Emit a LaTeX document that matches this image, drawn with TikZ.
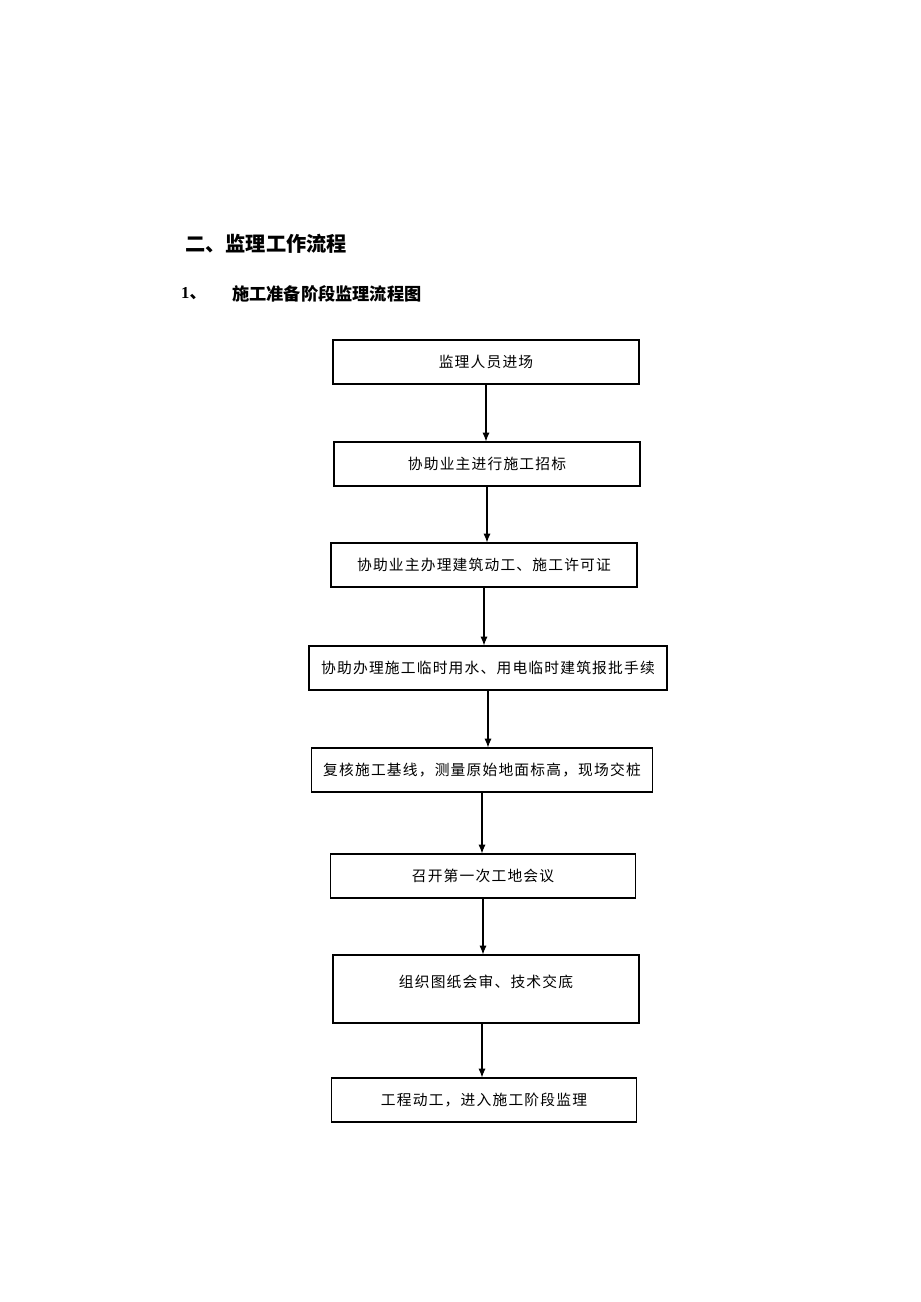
\documentclass[tikz,border=0pt]{standalone}
\usepackage{fontspec}
\setmainfont{Liberation Serif}
\newfontfamily\cjk[LetterSpace=8]{Noto Sans CJK SC}
\newfontfamily\cjkb{Noto Sans CJK SC}
\usetikzlibrary{positioning, arrows.meta}
\tikzset{
  stepbox/.style={draw, line width=0.6pt, minimum height=44*0.02cm, inner sep=0pt,
    font=\cjk\fontsize{8.4}{10}\selectfont},
  flow/.style={-{Latex[length=5pt,width=4pt]}, line width=0.6pt}
}
\begin{document}
\begin{tikzpicture}[x=0.02cm,y=-0.02cm]
    \useasboundingbox (0,0) rectangle (920,1302);
    % titles
    \node[anchor=west,font=\cjkb\bfseries\fontsize{11.5}{13}\selectfont] (title) at (179,244) {二、监理工作流程};
    \node[anchor=west,font=\bfseries\fontsize{9.5}{12}\selectfont] (num) at (175,294) {1{\cjkb 、}};
    \node[anchor=west,font=\cjkb\bfseries\fontsize{9.8}{12}\selectfont] (sub) at (226,294) {施工准备阶段监理流程图};

    % steps
    \node[stepbox,minimum width=306*0.02cm] (s1) at (486,362) {监理人员进场};
    \node[stepbox,minimum width=306*0.02cm] (s2) at (487,464) {协助业主进行施工招标};
    \node[stepbox,minimum width=306*0.02cm] (s3) at (484,565) {协助业主办理建筑动工、施工许可证};
    \node[stepbox,minimum width=358*0.02cm] (s4) at (488,668) {协助办理施工临时用水、用电临时建筑报批手续};
    \node[stepbox,minimum width=341*0.02cm] (s5) at (482,770) {复核施工基线，测量原始地面标高，现场交桩};
    \node[stepbox,minimum width=305*0.02cm] (s6) at (483,876) {召开第一次工地会议};
    \node[stepbox,minimum width=306*0.02cm,minimum height=68*0.02cm] (s7) at (486,989) {};
    \node[font=\cjk\fontsize{8.4}{10}\selectfont] (t7) at (486,982) {组织图纸会审、技术交底};
    \node[stepbox,minimum width=305*0.02cm] (s8) at (484,1100) {工程动工，进入施工阶段监理};

    % connections
    \draw[flow] (s1.south) -- (s1.south |- s2.north);
    \draw[flow] (s2.south) -- (s2.south |- s3.north);
    \draw[flow] (s3.south) -- (s3.south |- s4.north);
    \draw[flow] (s4.south) -- (s4.south |- s5.north);
    \draw[flow] (s5.south) -- (s5.south |- s6.north);
    \draw[flow] (s6.south) -- (s6.south |- s7.north);
    \draw[flow] ([xshift=-4*0.02cm]s7.south) -- ([xshift=-4*0.02cm]s7.south |- s8.north);
\end{tikzpicture}
\end{document}
